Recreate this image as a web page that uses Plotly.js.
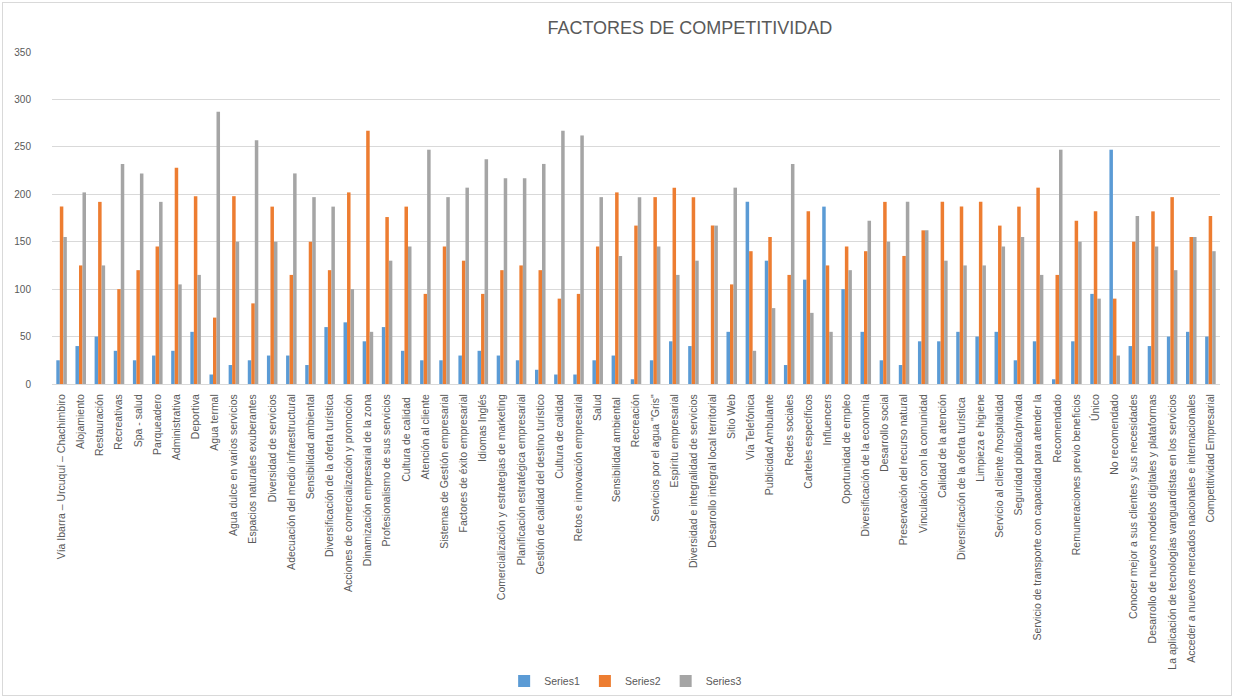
<!DOCTYPE html>
<html>
<head>
<meta charset="utf-8">
<script src="https://cdn.plot.ly/plotly-3.0.1.min.js"></script>
<style>
html,body{margin:0;padding:0;background:#fff;}
#frame{position:absolute;left:2px;top:2px;width:1228px;height:692px;border:1px solid #d9d9d9;}
#chart{position:absolute;left:0;top:0;width:1234px;height:698px;}
</style>
</head>
<body>
<div id="frame"></div>
<div id="chart"></div>
<script>
const categories = [
  "Vía Ibarra – Urcuquí – Chachimbiro","Alojamiento","Restauración","Recreativas","Spa - salud",
  "Parqueadero","Administrativa","Deportiva","Agua termal","Agua dulce en varios servicios",
  "Espacios naturales exuberantes","Diversidad de servicios","Adecuación del medio infraestructural","Sensibilidad ambiental","Diversificación de la oferta turística",
  "Acciones de comercialización y promoción","Dinamización empresarial de la zona","Profesionalismo de sus servicios","Cultura de calidad ","Atención al cliente",
  "Sistemas de Gestión empresarial","Factores de éxito empresarial","Idiomas Inglés","Comercialización y estrategias de marketing","Planificación estratégica empresarial",
  "Gestión de calidad del destino turístico","Cultura de calidad","Retos e innovación empresarial","Salud","Sensibilidad ambiental ",
  "Recreación","Servicios por el agua \"Gris\"","Espíritu empresarial","Diversidad e integralidad de servicios","Desarrollo integral local territorial",
  "Sitio Web","Vía Telefónica","Publicidad Ambulante","Redes sociales","Carteles específicos",
  "Influencers","Oportunidad de empleo","Diversificación de la economía","Desarrollo social","Preservación del recurso natural",
  "Vinculación con la comunidad","Calidad de la atención","Diversificación de la oferta turística ","Limpieza e higiene","Servicio al cliente /hospitalidad",
  "Seguridad pública/privada","Servicio de transporte con capacidad para atender la","Recomendado","Remuneraciones previo beneficios","Único",
  "No recomendado","Conocer mejor a sus clientes y sus necesidades","Desarrollo de nuevos modelos digitales y plataformas","La aplicación de tecnologías vanguardistas en los servicios","Acceder a nuevos mercados nacionales e internacionales",
  "Competitividad Empresarial"
];
const series1 = [25,40,50,35,25, 30,35,55,10,20, 25,30,30,20,60, 65,45,60,35,25, 25,30,35,30,25, 15,10,10,25,30, 5,25,45,40,0, 55,192,130,20,110, 187,100,55,25,20, 45,45,55,50,55, 25,45,5,45,95, 247,40,40,50,55, 50];
const series2 = [187,125,192,100,120, 145,228,198,70,198, 85,187,115,150,120, 202,267,176,187,95, 145,130,95,120,125, 120,90,95,145,202, 167,197,207,197,167, 105,140,155,115,182, 125,145,140,192,135, 162,192,187,192,167, 187,207,115,172,182, 90,150,182,197,155, 177];
const series3 = [155,202,125,232,222, 192,105,115,287,150, 257,150,222,197,187, 100,55,130,145,247, 197,207,237,217,217, 232,267,262,197,135, 197,145,115,130,167, 207,35,80,232,75, 55,120,172,150,192, 162,130,125,125,145, 155,115,247,150,90, 30,177,145,120,155, 140];
const seriesNames = ["Series1","Series2","Series3"];
const seriesColors = ["#5B9BD5","#ED7D31","#A5A5A5"];

const font = "'Liberation Sans', Arial, sans-serif";
const traces = [series1, series2, series3].map((vals, i) => ({
  type: "bar",
  name: seriesNames[i],
  x: categories,
  y: vals,
  marker: {color: seriesColors[i]},
  hoverinfo: "x+y+name"
}));

const layout = {
  width: 1234,
  height: 698,
  paper_bgcolor: "rgba(0,0,0,0)",
  plot_bgcolor: "rgba(0,0,0,0)",
  margin: {l: 52, r: 14, t: 52, b: 314},
  barmode: "group",
  bargap: 0.45,
  bargroupgap: 0,
  title: {
    text: "FACTORES DE COMPETITIVIDAD",
    x: 0.559, xref: "container", xanchor: "center",
    y: 0.961, yref: "container", yanchor: "middle",
    font: {family: font, size: 18, color: "#595959"}
  },
  xaxis: {
    type: "category",
    tickangle: -90,
    tickfont: {family: font, size: 10.5, color: "#595959"},
    ticklabelstandoff: 5,
    showgrid: false,
    showline: true,
    linecolor: "#d9d9d9",
    linewidth: 1,
    ticks: "",
    automargin: false
  },
  yaxis: {
    range: [0, 350],
    dtick: 50,
    tickfont: {family: font, size: 10, color: "#595959"},
    ticklabelstandoff: 20,
    gridcolor: "#d9d9d9",
    gridwidth: 1,
    zeroline: false,
    showline: false,
    ticks: "",
    ticklen: 0,
    automargin: false
  },
  legend: {
    orientation: "h",
    xref: "container", yref: "container",
    x: 0.507, xanchor: "center",
    y: 0.0244, yanchor: "middle",
    font: {family: font, size: 10.5, color: "#595959"},
    itemwidth: 30,
    traceorder: "normal"
  },
  showlegend: true
};

Plotly.newPlot("chart", traces, layout, {displayModeBar: false, responsive: false});
</script>
</body>
</html>
